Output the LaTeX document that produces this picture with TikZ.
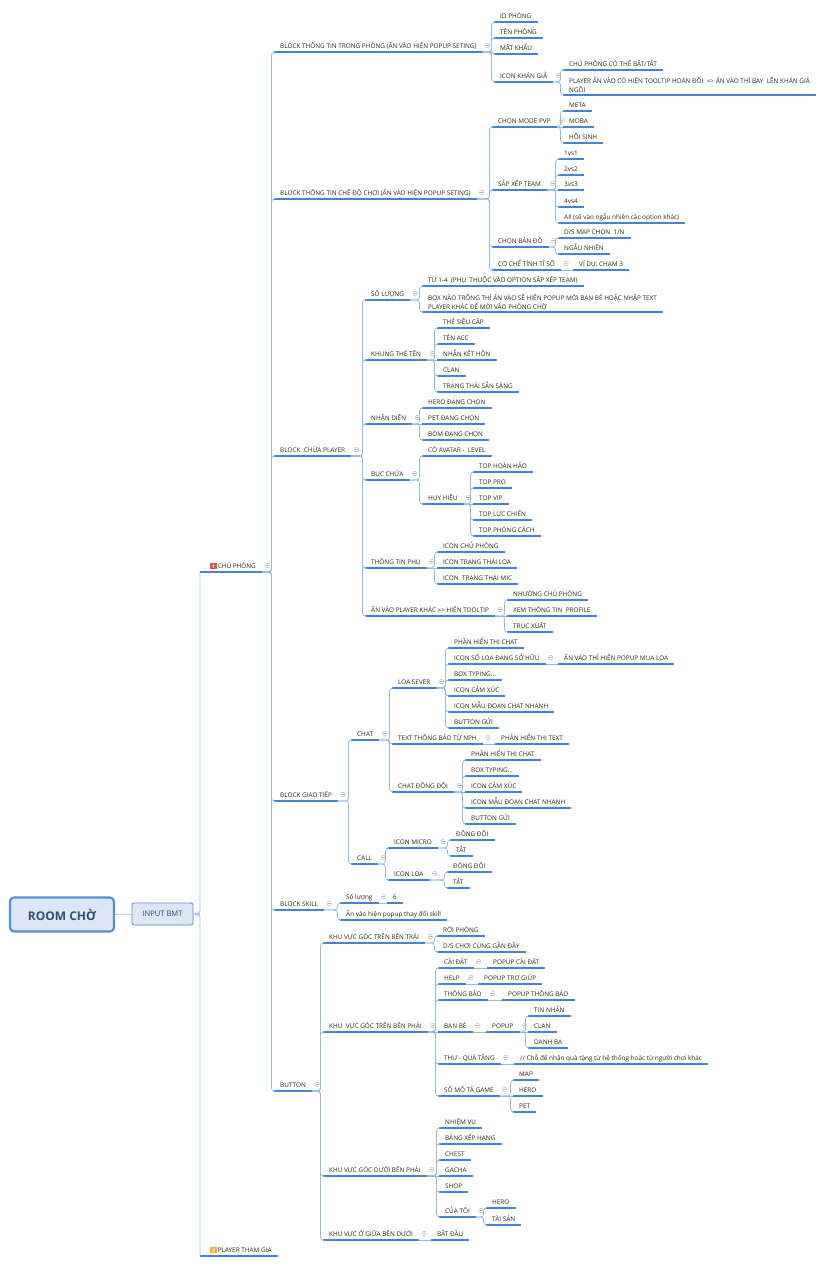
\documentclass[tikz,border=0pt]{standalone}
\usepackage{fontspec}
\setmainfont{Open Sans}
\usepackage{xcolor}
\definecolor{ink}{HTML}{2A2A2A}
\definecolor{underblue}{HTML}{4583D6}
\definecolor{linkblue}{HTML}{98B9E6}
\definecolor{rootfill}{HTML}{DCE6F4}
\definecolor{rootline}{HTML}{5A8FD2}
\definecolor{roottext}{HTML}{3A4E6C}
\definecolor{foldgray}{HTML}{B8B8B8}
\definecolor{prioA}{HTML}{E5534B}
\definecolor{prioB}{HTML}{F2A93B}

\newcommand\topicfont{\fontsize{6.4}{9.4}\selectfont}
\newcommand\prioicon[2]{{\setlength\fboxsep{0pt}\colorbox{#1}{\makebox[6.5pt][c]{\rule[-0.9pt]{0pt}{6.5pt}\textcolor{white}{\fontsize{5}{5}\selectfont\bfseries #2}}}}}

\begin{document}
\begin{tikzpicture}[
    x=1pt,y=-1pt,
    topic/.style={font=\topicfont,text=ink,anchor=south west,inner xsep=6pt,inner ysep=2pt,
      text height=5pt,text depth=1.5pt,
      append after command={(\tikzlastnode.south west) edge[uline] (\tikzlastnode.south east)}},
    twoline/.style={topic,align=left,text height=,text depth=},
    uline/.style={draw=underblue,line width=1.2pt},
    link/.style={draw=linkblue,line width=0.75pt,rounded corners=3pt},
    branch/.style={link,to path={-| ([xshift=-2.5pt]\tikztotarget.south west) -- (\tikztotarget.south west)}},
    inline/.style={link,to path={-- (\tikztotarget.south west)}},
    fold/.style={circle,draw=foldgray,line width=0.4pt,minimum size=4.6pt,inner sep=0pt,
      path picture={\draw[foldgray,line width=0.4pt]
        ([xshift=-1.4pt]path picture bounding box.center) -- ([xshift=1.4pt]path picture bounding box.center);}},
    rootbox/.style={draw=rootline,line width=2.2pt,rounded corners=4pt,fill=rootfill,
      minimum width=104pt,minimum height=34pt,inner sep=0pt,
      font=\fontsize{12}{14}\selectfont\bfseries,text=roottext},
    inputbox/.style={draw=rootline,line width=0.8pt,rounded corners=2pt,fill=rootfill,
      minimum width=61pt,minimum height=22pt,inner sep=0pt,
      font=\fontsize{7.6}{9}\selectfont,text=roottext}
  ]
    \path[use as bounding box,fill=white] (0,0) rectangle (833,1265);

    \node[rootbox] (root) at (62,914.5) {ROOM CHỜ};
    \node[inputbox] (input) at (162.5,914) {INPUT BMT};

    \node[topic] (chu) at (200,572) {\hspace*{4pt}\prioicon{prioA}{1}\,CHỦ PHÒNG};
    \node[topic] (thamgia) at (200,1256) {\hspace*{4pt}\prioicon{prioB}{2}\,PLAYER THAM GIA};

    \node[topic] (bA) at (274,52) {BLOCK THÔNG TIN TRONG PHÒNG (ẤN VÀO HIỆN POPUP SETING)};
    \node[topic] (bB) at (274,199) {BLOCK THÔNG TIN CHẾ ĐỘ CHƠI (ẤN VÀO HIỆN POPUP SETING)};
    \node[topic] (bC) at (274,456) {BLOCK~ CHỨA PLAYER};
    \node[topic] (bD) at (274,801) {BLOCK GIAO TIẾP};
    \node[topic] (bE) at (274,910) {BLOCK SKILL};
    \node[topic] (bF) at (274,1091) {BUTTON};

    \node[topic] (aId) at (494,22) {ID PHÒNG};
    \node[topic] (aTen) at (494,38) {TÊN PHÒNG};
    \node[topic] (aKhau) at (494,54) {MẬT KHẨU};
    \node[topic] (aKhan) at (494,82) {ICON KHÁN GIẢ};
    \node[topic] (aBat) at (563,70) {CHỦ PHÒNG CÓ THỂ BẬT/TẮT};
    \node[twoline] (aDoi) at (563,95)
      {PLAYER ẤN VÀO CÓ HIỆN TOOLTIP HOÁN ĐỔI~ => ẤN VÀO THÌ BAY~ LÊN KHÁN GIẢ\\NGỒI};

    \node[topic] (bMode) at (492,127) {CHỌN MODE PVP};
    \node[topic] (mMeta) at (563,111) {META};
    \node[topic] (mMoba) at (563,127) {MOBA};
    \node[topic] (mHoi) at (563,143) {HỒI SINH};
    \node[topic] (bTeam) at (492,190) {SẮP XẾP TEAM};
    \node[topic] (t1) at (558,159) {1vs1};
    \node[topic] (t2) at (558,175) {2vs2};
    \node[topic] (t3) at (558,190) {3vs3};
    \node[topic] (t4) at (558,207) {4vs4};
    \node[topic] (tAll) at (558,223) {All (sẽ vào ngẫu nhiên các option khác)};
    \node[topic] (bMap) at (492,247) {CHỌN BẢN ĐỒ};
    \node[topic] (mapDs) at (558,238) {D/S MAP CHỌN~ 1/N};
    \node[topic] (mapRand) at (558,254) {NGẪU NHIÊN};
    \node[topic] (bScore) at (492,270) {CƠ CHẾ TÍNH TỈ SỐ};
    \node[topic] (scoreEx) at (573,270) {VÍ DỤ: CHẠM 3};

    \node[topic] (cSo) at (365,300) {SỐ LƯỢNG};
    \node[topic] (soRange) at (422,286) {TỪ 1-4~ (PHỤ~ THUỘC VÀO OPTION SẮP XẾP TEAM)};
    \node[twoline] (soBox) at (422,312)
      {BOX NÀO TRỐNG THÌ ẤN VÀO SẼ HIỆN POPUP MỜI BẠN BÈ HOẶC NHẬP TEXT\\PLAYER KHÁC ĐỂ MỜI VÀO PHÒNG CHỜ};
    \node[topic] (cKhung) at (365,360) {KHUNG THẺ TÊN};
    \node[topic] (kThe) at (437,328) {THẺ SIÊU CẤP};
    \node[topic] (kTen) at (437,344) {TÊN ACC};
    \node[topic] (kNhan) at (437,360) {NHẪN KẾT HÔN};
    \node[topic] (kClan) at (437,376) {CLAN};
    \node[topic] (kReady) at (437,392) {TRẠNG THÁI SẴN SÀNG};
    \node[topic] (cNhan) at (365,424) {NHẬN DIỆN};
    \node[topic] (nHero) at (422,408) {HERO ĐANG CHỌN};
    \node[topic] (nPet) at (422,424) {PET ĐANG CHỌN};
    \node[topic] (nBom) at (422,440) {BOM ĐANG CHỌN};
    \node[topic] (cBuc) at (365,480) {BỤC CHỨA};
    \node[topic] (bucAva) at (422,456) {CÓ AVATAR -~ LEVEL};
    \node[topic] (bucHuy) at (422,504) {HUY HIỆU};
    \node[topic] (huy1) at (473,472) {TOP HOÀN HẢO};
    \node[topic] (huy2) at (473,488) {TOP PRO};
    \node[topic] (huy3) at (473,504) {TOP VIP};
    \node[topic] (huy4) at (473,520) {TOP LỰC CHIẾN};
    \node[topic] (huy5) at (473,536) {TOP PHONG CÁCH};
    \node[topic] (cPhu) at (365,568) {THÔNG TIN PHỤ};
    \node[topic] (phuChu) at (437,552) {ICON CHỦ PHÒNG};
    \node[topic] (phuLoa) at (437,568) {ICON TRẠNG THÁI LOA};
    \node[topic] (phuMic) at (437,584) {ICON~ TRẠNG THÁI MIC};
    \node[topic] (cTool) at (365,616) {ẤN VÀO PLAYER KHÁC => HIỆN TOOLTIP};
    \node[topic] (toolNhuong) at (507,600) {NHƯỜNG CHỦ PHÒNG};
    \node[topic] (toolXem) at (507,616) {XEM THÔNG TIN~ PROFILE};
    \node[topic] (toolKick) at (507,632) {TRỤC XUẤT};

    \node[topic] (dChat) at (351,740) {CHAT};
    \node[topic] (loaSv) at (392,688) {LOA SEVER};
    \node[topic] (loa1) at (448,648) {PHẦN HIỂN THỊ CHAT};
    \node[topic] (loa2) at (448,664) {ICON SỐ LOA ĐANG SỞ HỮU};
    \node[topic] (loaMua) at (558,664) {ẤN VÀO THÌ HIỆN POPUP MUA LOA};
    \node[topic] (loa3) at (448,680) {BOX TYPING...};
    \node[topic] (loa4) at (448,696) {ICON CẢM XÚC};
    \node[topic] (loa5) at (448,712) {ICON MẪU ĐOẠN CHAT NHANH};
    \node[topic] (loa6) at (448,728) {BUTTON GỬI};
    \node[topic] (npH) at (392,744) {TEXT THÔNG BÁO TỪ NPH};
    \node[topic] (npText) at (495,744) {PHẦN HIỂN THỊ TEXT};
    \node[topic] (doi) at (392,792) {CHAT ĐỒNG ĐỘI};
    \node[topic] (doi1) at (465,760) {PHẦN HIỂN THỊ CHAT};
    \node[topic] (doi2) at (465,776) {BOX TYPING...};
    \node[topic] (doi3) at (465,792) {ICON CẢM XÚC};
    \node[topic] (doi4) at (465,808) {ICON MẪU ĐOẠN CHAT NHANH};
    \node[topic] (doi5) at (465,824) {BUTTON GỬI};
    \node[topic] (dCall) at (351,864) {CALL};
    \node[topic] (mic) at (388,848) {ICON MICRO};
    \node[topic] (mic1) at (450,840) {ĐỒNG ĐỘI};
    \node[topic] (mic2) at (450,856) {TẮT};
    \node[topic] (callLoa) at (388,880) {ICON LOA};
    \node[topic] (callLoa1) at (447,872) {ĐỒNG ĐỘI};
    \node[topic] (callLoa2) at (447,888) {TẮT};

    \node[topic] (skNum) at (340,903) {Số lượng};
    \node[topic] (skSix) at (387,903) {6};
    \node[topic] (skPop) at (340,920) {Ấn vào hiện popup thay đổi skill};

    \node[topic] (fTL) at (323,943) {KHU VỰC GÓC TRÊN BÊN TRÁI};
    \node[topic] (tlRoi) at (437,936) {RỜI PHÒNG};
    \node[topic] (tlDs) at (437,952) {D/S CHƠI CÙNG GẦN ĐÂY};
    \node[topic] (fTR) at (323,1032) {KHU~ VỰC GÓC TRÊN BÊN PHẢI};
    \node[topic] (trCai) at (438,968) {CÀI ĐẶT};
    \node[topic] (trCaiPop) at (487,968) {POPUP CÀI ĐẶT};
    \node[topic] (trHelp) at (438,984) {HELP};
    \node[topic] (trHelpPop) at (478,984) {POPUP TRỢ GIÚP};
    \node[topic] (trTb) at (438,1000) {THÔNG BÁO};
    \node[topic] (trTbPop) at (502,1000) {POPUP THÔNG BÁO};
    \node[topic] (trBan) at (438,1032) {BẠN BÈ};
    \node[topic] (trBanPop) at (486,1032) {POPUP};
    \node[topic] (banTin) at (528,1016) {TIN NHẮN};
    \node[topic] (banClan) at (528,1032) {CLAN};
    \node[topic] (banDanh) at (528,1048) {DANH BẠ};
    \node[topic] (trThu) at (438,1064) {THƯ - QUÀ TẶNG};
    \node[topic] (trThuNote) at (514,1064) {// Chỗ để nhận quà tặng từ hệ thống hoặc từ người chơi khác};
    \node[topic] (trSo) at (438,1096) {SỐ MÔ TẢ GAME};
    \node[topic] (soMap) at (513,1080) {MAP};
    \node[topic] (soHero) at (513,1096) {HERO};
    \node[topic] (soPet) at (513,1112) {PET};
    \node[topic] (fBR) at (323,1176) {KHU VỰC GÓC DƯỚI BÊN PHẢI};
    \node[topic] (brNv) at (439,1128) {NHIỆM VỤ};
    \node[topic] (brBxh) at (439,1144) {BẢNG XẾP HẠNG};
    \node[topic] (brChest) at (439,1160) {CHEST};
    \node[topic] (brGacha) at (439,1176) {GACHA};
    \node[topic] (brShop) at (439,1192) {SHOP};
    \node[topic] (brCua) at (439,1217) {CỦA TÔI};
    \node[topic] (cuaHero) at (486,1208) {HERO};
    \node[topic] (cuaTai) at (486,1225) {TÀI SẢN};
    \node[topic] (fMid) at (323,1240) {KHU VỰC Ở GIỮA BÊN DƯỚI};
    \node[topic] (midStart) at (431,1240) {BẮT ĐẦU};

    \node[fold] (f-input) at ([xshift=4pt]input.east) {};
    \foreach \p in {chu,bA,bB,bC,bD,bE,bF,aKhan,bMode,bTeam,bMap,bScore,cSo,cKhung,cNhan,cBuc,
        bucHuy,cPhu,cTool,dChat,loaSv,loa2,npH,doi,dCall,mic,callLoa,skNum,fTL,fTR,trCai,trHelp,
        trTb,trBan,trBanPop,trThu,trSo,fBR,brCua,fMid}
      \node[fold] (f-\p) at ([xshift=5pt,yshift=6.5pt]\p.south east) {};

    \draw[link] (root) -- (input);
    \draw[link] (input.east) -| (chu.south west);
    \draw[link] (input.east) -| (thamgia.south west);
    \path (chu.south east) edge[branch] (bA) edge[branch] (bB) edge[branch] (bC)
      edge[branch] (bD) edge[branch] (bE) edge[branch] (bF);
    \path (bA.south east) edge[branch] (aId) edge[branch] (aTen) edge[branch] (aKhau) edge[branch] (aKhan);
    \path (aKhan.south east) edge[branch] (aBat) edge[branch] (aDoi);
    \path (bB.south east) edge[branch] (bMode) edge[branch] (bTeam) edge[branch] (bMap) edge[branch] (bScore);
    \path (bMode.south east) edge[branch] (mMeta) edge[inline] (mMoba) edge[branch] (mHoi);
    \path (bTeam.south east) edge[branch] (t1) edge[branch] (t2) edge[inline] (t3)
      edge[branch] (t4) edge[branch] (tAll);
    \path (bMap.south east) edge[branch] (mapDs) edge[branch] (mapRand);
    \path (bScore.south east) edge[inline] (scoreEx);
    \path (bC.south east) edge[branch] (cSo) edge[branch] (cKhung) edge[branch] (cNhan)
      edge[branch] (cBuc) edge[branch] (cPhu) edge[branch] (cTool);
    \path (cSo.south east) edge[branch] (soRange) edge[branch] (soBox);
    \path (cKhung.south east) edge[branch] (kThe) edge[branch] (kTen) edge[inline] (kNhan)
      edge[branch] (kClan) edge[branch] (kReady);
    \path (cNhan.south east) edge[branch] (nHero) edge[inline] (nPet) edge[branch] (nBom);
    \path (cBuc.south east) edge[branch] (bucAva) edge[branch] (bucHuy);
    \path (bucHuy.south east) edge[branch] (huy1) edge[branch] (huy2) edge[inline] (huy3)
      edge[branch] (huy4) edge[branch] (huy5);
    \path (cPhu.south east) edge[branch] (phuChu) edge[inline] (phuLoa) edge[branch] (phuMic);
    \path (cTool.south east) edge[branch] (toolNhuong) edge[inline] (toolXem) edge[branch] (toolKick);
    \path (bD.south east) edge[branch] (dChat) edge[branch] (dCall);
    \path (dChat.south east) edge[branch] (loaSv) edge[branch] (npH) edge[branch] (doi);
    \path (loaSv.south east) edge[branch] (loa1) edge[branch] (loa2) edge[branch] (loa3)
      edge[branch] (loa4) edge[branch] (loa5) edge[branch] (loa6);
    \path (loa2.south east) edge[inline] (loaMua);
    \path (npH.south east) edge[inline] (npText);
    \path (doi.south east) edge[branch] (doi1) edge[branch] (doi2) edge[inline] (doi3)
      edge[branch] (doi4) edge[branch] (doi5);
    \path (dCall.south east) edge[branch] (mic) edge[branch] (callLoa);
    \path (mic.south east) edge[branch] (mic1) edge[branch] (mic2);
    \path (callLoa.south east) edge[branch] (callLoa1) edge[branch] (callLoa2);
    \path (bE.south east) edge[branch] (skNum) edge[branch] (skPop);
    \path (skNum.south east) edge[inline] (skSix);
    \path (bF.south east) edge[branch] (fTL) edge[branch] (fTR) edge[branch] (fBR) edge[branch] (fMid);
    \path (fTL.south east) edge[branch] (tlRoi) edge[branch] (tlDs);
    \path (fTR.south east) edge[branch] (trCai) edge[branch] (trHelp) edge[branch] (trTb)
      edge[inline] (trBan) edge[branch] (trThu) edge[branch] (trSo);
    \path (trCai.south east) edge[inline] (trCaiPop);
    \path (trHelp.south east) edge[inline] (trHelpPop);
    \path (trTb.south east) edge[inline] (trTbPop);
    \path (trBan.south east) edge[inline] (trBanPop);
    \path (trBanPop.south east) edge[branch] (banTin) edge[inline] (banClan) edge[branch] (banDanh);
    \path (trThu.south east) edge[inline] (trThuNote);
    \path (trSo.south east) edge[branch] (soMap) edge[inline] (soHero) edge[branch] (soPet);
    \path (fBR.south east) edge[branch] (brNv) edge[branch] (brBxh) edge[branch] (brChest)
      edge[inline] (brGacha) edge[branch] (brShop) edge[branch] (brCua);
    \path (brCua.south east) edge[branch] (cuaHero) edge[branch] (cuaTai);
    \path (fMid.south east) edge[inline] (midStart);
  \end{tikzpicture}
\end{document}
